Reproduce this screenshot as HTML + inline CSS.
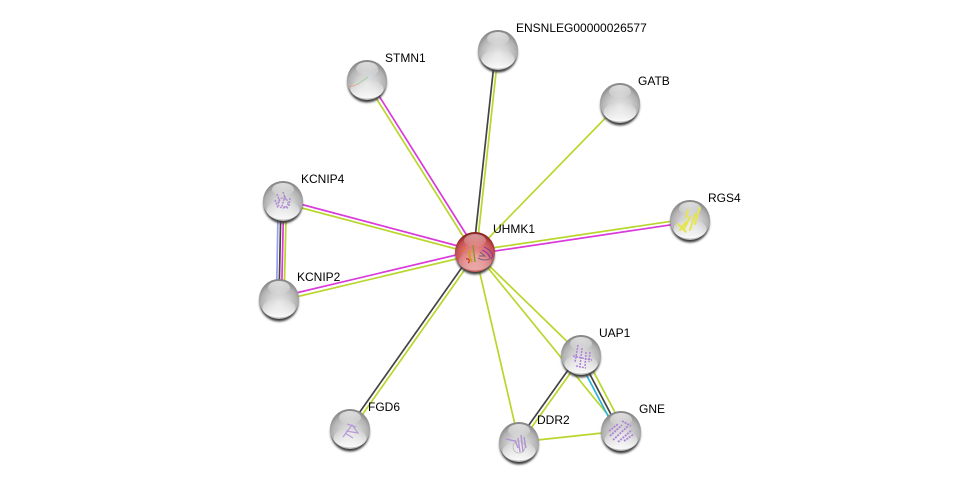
<!DOCTYPE html>
<html>
<head>
<meta charset="utf-8">
<style>
html,body{margin:0;padding:0;background:#fff;width:976px;height:487px;overflow:hidden}
svg{display:block}
text{font-family:"Liberation Sans",sans-serif;font-size:12px;fill:#000}
</style>
</head>
<body>
<svg width="976" height="487" viewBox="0 0 976 487" xmlns="http://www.w3.org/2000/svg">
<defs>
<filter id="soft" x="-20%" y="-20%" width="140%" height="140%"><feGaussianBlur stdDeviation=".35"/></filter>
<filter id="sb" x="-30%" y="-30%" width="160%" height="160%"><feGaussianBlur stdDeviation="1"/></filter>
<radialGradient id="g" cx="50%" cy="60%" r="58%">
<stop offset="0" stop-color="#e4e4e4"/>
<stop offset=".45" stop-color="#d0d0d0"/>
<stop offset=".78" stop-color="#b2b2b2"/>
<stop offset="1" stop-color="#858585"/>
</radialGradient>
<radialGradient id="r" cx="50%" cy="60%" r="58%">
<stop offset="0" stop-color="#ee9696"/>
<stop offset=".5" stop-color="#dc7676"/>
<stop offset=".82" stop-color="#c24e4e"/>
<stop offset="1" stop-color="#861f1f"/>
</radialGradient>
<linearGradient id="h" x1="0" y1="0" x2="0" y2="1">
<stop offset="0" stop-color="#fff" stop-opacity=".7"/>
<stop offset="1" stop-color="#fff" stop-opacity=".05"/>
</linearGradient>
<linearGradient id="b" x1="0" y1="0" x2="0" y2="1">
<stop offset="0" stop-color="#fff" stop-opacity="0"/>
<stop offset="1" stop-color="#fff" stop-opacity=".95"/>
</linearGradient>
<g id="n">
<circle cx="0" cy="3" r="19.500" fill="#3a3a3a" filter="url(#sb)"/>
<circle r="20" fill="url(#g)"/>
<ellipse cx="0" cy="9" rx="16.500" ry="9.500" fill="url(#b)"/>
<ellipse cx="0" cy="-11.500" rx="11" ry="6.500" fill="url(#h)"/>
</g>
<g id="nr">
<circle cx="0" cy="3" r="19.500" fill="#3a3a3a" filter="url(#sb)"/>
<circle r="20" fill="url(#r)"/>
<ellipse cx="0" cy="9" rx="16.500" ry="9.500" fill="url(#b)" opacity=".45"/>
<ellipse cx="0" cy="-11.500" rx="11" ry="6.500" fill="url(#h)" opacity=".7"/>
</g>
</defs>

<g fill="none" stroke-width="1.700">
<line x1="366" y1="82" x2="473" y2="252" stroke="#b9d62c"/>
<line x1="369" y1="80" x2="476" y2="250" stroke="#d93ad9"/>
<line x1="495.500" y1="50" x2="473.500" y2="252" stroke="#444"/>
<line x1="498.500" y1="50" x2="476.500" y2="252" stroke="#b9d62c"/>
<line x1="620" y1="103" x2="475" y2="252" stroke="#b9d62c"/>
<line x1="690" y1="218.500" x2="475" y2="250.500" stroke="#b9d62c"/>
<line x1="690" y1="222" x2="475" y2="254" stroke="#d93ad9"/>
<line x1="283" y1="199.500" x2="475" y2="250.500" stroke="#d93ad9"/>
<line x1="283" y1="203" x2="475" y2="254" stroke="#b9d62c"/>
<line x1="279" y1="297" x2="475" y2="250.500" stroke="#d93ad9"/>
<line x1="279" y1="301" x2="475" y2="254.500" stroke="#b9d62c"/>
<line x1="348.500" y1="428" x2="473.500" y2="251" stroke="#444"/>
<line x1="351.500" y1="430" x2="476.500" y2="253" stroke="#b9d62c"/>
<line x1="519" y1="442" x2="475" y2="252" stroke="#b9d62c"/>
<line x1="581" y1="355" x2="475" y2="252" stroke="#b9d62c"/>
<line x1="621" y1="431" x2="475" y2="252" stroke="#b9d62c"/>
<line x1="519" y1="442" x2="621" y2="431" stroke="#b9d62c"/>
<line x1="579.500" y1="354" x2="517.500" y2="441" stroke="#444"/>
<line x1="582.500" y1="356" x2="520.500" y2="443" stroke="#b9d62c"/>
<line x1="577" y1="357" x2="617" y2="433" stroke="#2ab4dd"/>
<line x1="580" y1="355.500" x2="620" y2="431.500" stroke="#444"/>
<line x1="584" y1="353.500" x2="624" y2="429.500" stroke="#b9d62c"/>
<line x1="278.200" y1="201" x2="276.500" y2="299" stroke="#9a9af2"/>
<line x1="281" y1="201" x2="279" y2="299" stroke="#444"/>
<line x1="283.700" y1="201" x2="281.500" y2="299" stroke="#d93ad9"/>
<line x1="286.500" y1="201" x2="284" y2="299" stroke="#b9d62c"/>
</g>

<use href="#n" x="367" y="80"/>
<path d="M350 87 L358 84" fill="none" stroke="#e0a080" stroke-width=".8"/>
<path d="M358 84 L368 77" fill="none" stroke="#9c9" stroke-width=".8"/>
<path d="M368 77 C372 76 376 74 378 70" fill="none" stroke="#cde" stroke-width=".8"/>
<use href="#n" x="498" y="50"/>
<use href="#n" x="620" y="103"/>
<use href="#n" x="690" y="220"/>
<g fill="none" stroke="#e6e54a" stroke-width="2" stroke-linecap="round" stroke-dasharray="2 1" filter="url(#soft)">
<path d="M680 230 L686 222 M684 229 L690 217 M690 230 L695 214 M695 224 L700 207 M688 210 L686 218 M678 224 L686 232"/>
</g>
<use href="#n" x="283" y="201"/>
<g fill="none" stroke="#b08cd0" stroke-width="1.500" stroke-dasharray="2 1" filter="url(#soft)">
<path d="M277 194 L280 202 L276 204 M285 196 L282 206 L288 208 M290 198 L289 206 M275 200 L278 208 M283 192 L286 200"/>
<circle cx="283" cy="203" r="5" stroke-width="1.200"/>
</g>
<use href="#n" x="279" y="299"/>
<use href="#n" x="350" y="429"/>
<g fill="none" stroke="#b79cd8" stroke-width="1.200" filter="url(#soft)">
<path d="M343 437 L352 425 L358 433 L346 431 M347 424 L356 427 M345 433 L353 438"/>
</g>
<use href="#n" x="519" y="442"/>
<g fill="none" stroke="#b193d6" stroke-width="1.400" filter="url(#soft)">
<path d="M521 435 L523 452 M518 438 L520 452 M515 440 L518 448 M506 439 L515 441 M524 437 L526 448"/>
<circle cx="519" cy="447" r="6" stroke="#aaa" stroke-width=".6"/>
</g>
<use href="#n" x="621" y="431"/>
<g fill="none" stroke="#ad82d8" stroke-width="1.800" stroke-dasharray="2 1" filter="url(#soft)">
<path d="M610 436 L622 425 M613 440 L628 426 M618 442 L632 430 M624 441 L634 434 M609 431 L618 424 M622 421 L631 426"/>
</g>
<use href="#n" x="581" y="355"/>
<g fill="none" stroke="#ad82d8" stroke-width="1.500" stroke-dasharray="2 1" filter="url(#soft)">
<path d="M578 345 L575 362 M582 348 L580 366 M586 352 L585 366 M590 352 L589 362 M573 356 L592 360 M576 366 L586 368"/>
</g>
<use href="#nr" x="475" y="252"/>
<g fill="none" stroke-width="1.200" filter="url(#soft)">
<path d="M469 250 L470 258 L472 262" stroke="#c8a020" stroke-width="2"/>
<path d="M473 245 L475 262" stroke="#7b9a28" stroke-width="1.300"/>
<path d="M463 247 L466 249 M461 252 L464 250" stroke="#e07030"/>
<path d="M468 263 A2 2 0 1 0 466 259" stroke="#c83030"/>
<path d="M484 247 C491 250 493 254 493 258" stroke="#8a3aa8"/>
<path d="M482 250 C487 252 489 255 490 258" stroke="#8a3aa8"/>
<path d="M478 258 C483 261 488 260 492 258 M480 252 L485 256 L479 256" stroke="#6a5a80" stroke-width=".9"/>
</g>

<text x="385" y="62">STMN1</text>
<text x="516" y="32">ENSNLEG00000026577</text>
<text x="638" y="85">GATB</text>
<text x="708" y="202">RGS4</text>
<text x="301" y="183">KCNIP4</text>
<text x="297" y="281">KCNIP2</text>
<text x="493" y="233">UHMK1</text>
<text x="599" y="337">UAP1</text>
<text x="639" y="413">GNE</text>
<text x="537" y="424">DDR2</text>
<text x="368" y="411">FGD6</text>
</svg>
</body>
</html>
